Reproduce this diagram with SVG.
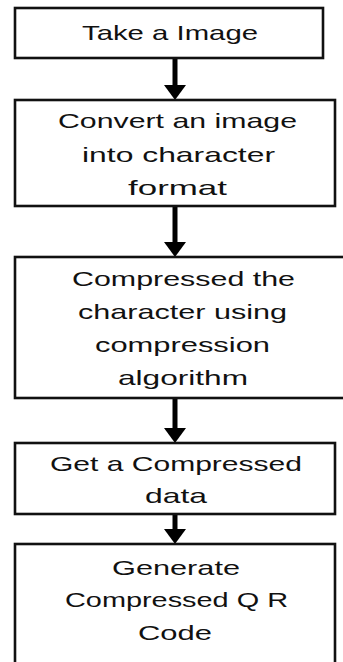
<svg xmlns="http://www.w3.org/2000/svg" width="343" height="662" viewBox="0 0 343 662">
<style>
.box{fill:#fff;stroke:#111;stroke-width:2.6}
.lbl{font-family:"Liberation Sans",Arial,sans-serif;font-size:21px;fill:#111;text-anchor:middle}
.conn{stroke:#000;stroke-width:5;fill:none}
</style>
<defs>
<marker id="ah" markerUnits="userSpaceOnUse" markerWidth="15" markerHeight="22" refX="0" refY="11" orient="auto">
<path d="M0,0 L15,11 L0,22 z" fill="#000"/>
</marker>
</defs>
<rect width="343" height="662" fill="#fff"/>
<g id="connectors">
<line class="conn" x1="175" y1="58" x2="175" y2="85" marker-end="url(#ah)"/>
<line class="conn" x1="175" y1="206" x2="175" y2="242" marker-end="url(#ah)"/>
<line class="conn" x1="175" y1="398" x2="175" y2="428" marker-end="url(#ah)"/>
<line class="conn" x1="175" y1="514" x2="175" y2="529" marker-end="url(#ah)"/>
</g>
<g id="n1">
<rect class="box" x="15" y="8" width="308" height="50"/>
<text class="lbl" x="170" y="40" textLength="176" lengthAdjust="spacingAndGlyphs">Take a Image</text>
</g>
<g id="n2">
<rect class="box" x="15" y="100" width="320" height="106"/>
<text class="lbl" x="177.5" y="128" textLength="239" lengthAdjust="spacingAndGlyphs">Convert an image</text>
<text class="lbl" x="178.5" y="162" textLength="193" lengthAdjust="spacingAndGlyphs">into character</text>
<text class="lbl" x="177.5" y="195" textLength="99" lengthAdjust="spacingAndGlyphs">format</text>
</g>
<g id="n3">
<rect class="box" x="15" y="257" width="335" height="141"/>
<text class="lbl" x="183.5" y="286" textLength="223" lengthAdjust="spacingAndGlyphs">Compressed the</text>
<text class="lbl" x="182.5" y="319" textLength="209" lengthAdjust="spacingAndGlyphs">character using</text>
<text class="lbl" x="182.5" y="352" textLength="175" lengthAdjust="spacingAndGlyphs">compression</text>
<text class="lbl" x="183" y="385" textLength="130" lengthAdjust="spacingAndGlyphs">algorithm</text>
</g>
<g id="n4">
<rect class="box" x="15" y="443" width="320" height="71"/>
<text class="lbl" x="176" y="471" textLength="252" lengthAdjust="spacingAndGlyphs">Get a Compressed</text>
<text class="lbl" x="176" y="503" textLength="62" lengthAdjust="spacingAndGlyphs">data</text>
</g>
<g id="n5">
<rect class="box" x="15" y="544" width="320" height="124"/>
<text class="lbl" x="176" y="575" textLength="128" lengthAdjust="spacingAndGlyphs">Generate</text>
<text class="lbl" x="176.5" y="607" textLength="223" lengthAdjust="spacingAndGlyphs">Compressed Q R</text>
<text class="lbl" x="175" y="640" textLength="74" lengthAdjust="spacingAndGlyphs">Code</text>
</g>
</svg>
